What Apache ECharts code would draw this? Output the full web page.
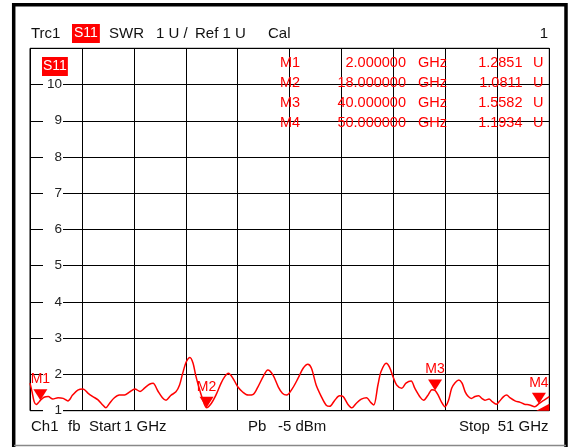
<!DOCTYPE html>
<html><head><meta charset="utf-8">
<script src="https://cdn.jsdelivr.net/npm/echarts@6/dist/echarts.min.js"></script>
<style>html,body{margin:0;padding:0;background:#fff}#c{width:571px;height:447px}</style>
</head><body><div id="c"></div>
<script>
// Trace S11 SWR (frequency in GHz, SWR in U)
const freqGHz = [1.0,1.2,1.4,1.6,1.8,2.0,2.35,2.75,3.2,3.7,4.2,4.65,5.1,5.6,6.1,6.6,7.05,7.55,8.0,8.3,8.65,9.1,9.6,10.1,10.6,11.1,11.6,12.05,12.5,12.85,13.3,13.75,14.1,14.55,15.05,15.4,15.7,16.05,16.4,16.7,16.95,17.2,17.55,18.0,18.45,18.9,19.4,19.75,20.1,20.55,21.0,21.5,22.0,22.5,22.95,23.45,23.9,24.4,24.9,25.3,25.7,26.3,26.8,27.3,27.75,28.1,28.55,29.05,29.5,29.85,30.35,30.8,31.15,31.6,32.0,32.4,32.9,33.4,33.8,34.1,34.5,34.8,35.3,35.6,35.95,36.3,36.8,37.2,37.7,38.05,38.6,38.9,39.3,39.7,40.0,40.3,40.6,40.95,41.3,41.6,41.95,42.3,42.6,42.9,43.2,43.5,43.85,44.2,44.5,44.8,45.2,45.5,45.9,46.2,46.6,46.9,47.2,47.7,48.2,48.6,49.1,49.6,50.0,50.5,51.0];
const swr = [1.76,1.52,1.25,1.17,1.22,1.2851,1.37,1.39,1.32,1.36,1.34,1.27,1.43,1.57,1.60,1.48,1.39,1.30,1.16,1.08,1.20,1.35,1.43,1.43,1.52,1.60,1.53,1.63,1.73,1.76,1.55,1.36,1.29,1.42,1.52,1.71,2.03,2.35,2.47,2.31,1.98,1.71,1.38,1.0811,1.20,1.43,1.76,1.94,2.03,1.89,1.66,1.51,1.43,1.45,1.66,1.94,2.12,1.98,1.66,1.48,1.43,1.63,1.89,2.17,2.28,2.17,1.71,1.39,1.16,1.12,1.29,1.41,1.39,1.18,1.08,1.20,1.32,1.36,1.23,1.16,1.71,2.08,2.31,2.21,1.94,1.71,1.62,1.76,1.82,1.62,1.36,1.29,1.42,1.58,1.5582,1.43,1.25,1.11,1.29,1.62,1.78,1.85,1.76,1.52,1.39,1.34,1.39,1.41,1.34,1.29,1.32,1.25,1.18,1.26,1.39,1.43,1.36,1.27,1.23,1.18,1.16,1.11,1.1934,1.29,1.39];

// Markers
const markerNames = ['M1','M2','M3','M4'];
const markerFreq = [2, 18, 40, 50];
const markerSwr = [1.2851, 1.0811, 1.5582, 1.1934];
const markerFreqText = ['2.000000','18.000000','40.000000','50.000000'];
const markerSwrText = ['1.2851','1.0811','1.5582','1.1934'];

// Axes
const xStart = 1, xStop = 51, xDiv = 5;
const yMin = 1, yMax = 11, yDiv = 1;

// Texts
const headerLeft = [['Trc1',31],['SWR',109],['1 U /',156],['Ref 1 U',195],['Cal',268]];
const traceName = 'S11';
const channelNo = '1';
const footer = [['Ch1',31],['fb',68],['Start',89],['1 GHz',124],['Pb',248],['-5 dBm',278],['Stop',459]];
const stopText = '51 GHz';

const FONT = '"Liberation Sans", Arial, sans-serif';
const RED = '#ff0000';

const chart = echarts.init(document.getElementById('c'), null, {renderer:'canvas'});

const graphics = [];
// outer frame
graphics.push({type:'polyline', silent:true, shape:{points:[[13.7,447],[13.7,4.7],[566,4.7],[566,447]]}, style:{stroke:'#000', lineWidth:3.5, fill:null}});
graphics.push({type:'line', silent:true, shape:{x1:14,y1:445.5,x2:566,y2:445.5}, style:{stroke:'#888', lineWidth:1.5}});
headerLeft.forEach(([t,x]) => graphics.push({type:'text', x:x, y:33.5, style:{text:t, font:'15px '+FONT, fill:'#111', verticalAlign:'middle'}}));
graphics.push({type:'text', x:72, y:33.5, style:{text:traceName, font:'14px '+FONT, fill:'#fff', backgroundColor:RED, padding:[3,2,2,2], verticalAlign:'middle'}});
graphics.push({type:'text', x:548, y:33.5, style:{text:channelNo, font:'15px '+FONT, fill:'#111', align:'right', verticalAlign:'middle'}});
graphics.push({type:'text', x:42, y:66.5, z:10, style:{text:traceName, font:'14px '+FONT, fill:'#fff', backgroundColor:RED, padding:[3,1,2,1], verticalAlign:'middle'}});
footer.forEach(([t,x]) => graphics.push({type:'text', x:x, y:427, style:{text:t, font:'15px '+FONT, fill:'#111', verticalAlign:'middle'}}));
graphics.push({type:'text', x:548.5, y:427, style:{text:stopText, font:'15px '+FONT, fill:'#111', align:'right', verticalAlign:'middle'}});
// marker table
markerNames.forEach((n,i) => {
  const y = 62.5 + i*20.2;
  const st = {font:'14.5px '+FONT, fill:RED, verticalAlign:'middle'};
  graphics.push({type:'text', x:280, y:y, z:10, style:Object.assign({text:n}, st)});
  graphics.push({type:'text', x:406, y:y, z:10, style:Object.assign({text:markerFreqText[i], align:'right'}, st)});
  graphics.push({type:'text', x:418, y:y, z:10, style:Object.assign({text:'GHz'}, st)});
  graphics.push({type:'text', x:522.5, y:y, z:10, style:Object.assign({text:markerSwrText[i], align:'right'}, st)});
  graphics.push({type:'text', x:533, y:y, z:10, style:Object.assign({text:'U'}, st)});
});

const markData = markerNames.map((n,i) => ({
  name:n, coord:[markerFreq[i], markerSwr[i]],
  symbol:'path://M0,0 L14,0 L7,11 Z', symbolSize:[14,11], symbolOffset:[0,-5.5],
  label:{show:true, position:'top', distance:3, formatter:n, color:RED, fontSize:14, fontFamily:FONT}
}));
markData.push({name:'end', coord:[xStop, yMin], symbol:'path://M13,0 L13,7 L0,7 Z', symbolSize:[13,7], symbolOffset:[-6.5,-3.5], label:{show:false}});

chart.setOption({
  animation:false,
  backgroundColor:'#fff',
  grid:{left:30, right:21.7, top:48.3, bottom:36.3, show:true, borderColor:'#000', borderWidth:1, backgroundColor:'transparent', outerBoundsMode:'none'},
  xAxis:{type:'value', min:xStart, max:xStop, interval:xDiv, axisLine:{show:false}, axisTick:{show:false}, axisLabel:{show:false}, splitLine:{show:true, lineStyle:{color:'#000', width:1}}},
  yAxis:{type:'value', min:yMin, max:yMax, interval:yDiv, z:3, axisLine:{show:false}, axisTick:{show:false},
    axisLabel:{show:true, margin:-33, width:19, align:'right', padding:[0,1,0,0], backgroundColor:'#fff', color:'#222', fontSize:13.5, fontFamily:FONT, lineHeight:13, showMinLabel:true, showMaxLabel:false,
      formatter: v => (v >= yMax ? '' : String(v))},
    splitLine:{show:true, lineStyle:{color:'#000', width:1}}},
  graphic:graphics,
  series:[{
    type:'line', z:4, data:freqGHz.map((f,i)=>[f, swr[i]]), showSymbol:false, smooth:0.3,
    lineStyle:{color:RED, width:1.5}, itemStyle:{color:RED},
    markPoint:{silent:true, itemStyle:{color:RED}, data:markData}
  }]
});
</script></body></html>
